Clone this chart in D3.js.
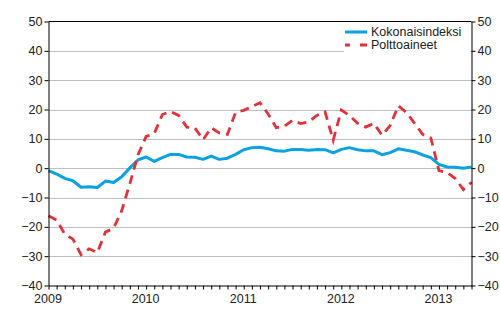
<!DOCTYPE html>
<html>
<head>
<meta charset="utf-8">
<script src="https://cdn.jsdelivr.net/npm/d3@7"></script>
<style>
  html, body { margin: 0; padding: 0; background: #fff; }
  svg { display: block; }
  text { font-family: "Liberation Sans", Arial, sans-serif; font-size: 12.5px; fill: #222; }
</style>
</head>
<body>
<svg id="chart" width="500" height="330"></svg>
<script>
// Monthly annual change (%), January 2009 – May 2013
const yearLabels = ["2009", "2010", "2011", "2012", "2013"];
const yTicks = [-40, -30, -20, -10, 0, 10, 20, 30, 40, 50];
const seriesNames = ["Kokonaisindeksi", "Polttoaineet"];

const kokonaisindeksi = [
  -0.8, -2.0, -3.5, -4.3, -6.5, -6.3, -6.6, -4.4, -4.9, -2.9, 0.1, 2.8,
  3.8, 2.3, 3.6, 4.7, 4.7, 3.8, 3.7, 3.0, 4.1, 3.0, 3.4, 4.7,
  6.3, 7.0, 7.1, 6.6, 5.9, 5.8, 6.4, 6.4, 6.1, 6.4, 6.3, 5.2,
  6.4, 7.0, 6.3, 5.9, 5.9, 4.6, 5.3, 6.6, 6.1, 5.6, 4.5, 3.6,
  1.3, 0.4, 0.3, 0.0, 0.4
];

const polttoaineet = [
  -16.2, -17.7, -22.5, -24.2, -29.5, -27.5, -28.8, -21.8, -20.5, -14.5, -5.3, 4.5,
  10.8, 11.8, 18.3, 19.3, 18.0, 14.0, 13.7, 9.7, 13.8, 12.0, 11.5, 19.0,
  19.7, 21.0, 22.3, 18.5, 13.8, 14.3, 16.3, 15.2, 15.8, 18.0, 19.2, 9.5,
  19.8, 18.0, 15.3, 14.0, 15.3, 11.2, 14.5, 21.3, 19.0, 15.3, 11.5, 10.3,
  -0.8, -1.5, -3.5, -7.3, -4.8
];

const colors = { blue: "#0ba2e1", red: "#e0323a", grid: "#c0c0c0", axis: "#000" };

const svg = d3.select("#chart");
const plotLeft = 48.5, plotRight = 471.5, plotTop = 21.5, plotBottom = 285.5;

const months = d3.range(kokonaisindeksi.length);
const x = d3.scaleLinear().domain([0, months.length - 1]).range([plotLeft, plotRight]);
const y = d3.scaleLinear().domain([-40, 50]).range([plotBottom, plotTop]);

// Horizontal gridlines
svg.append("g")
  .selectAll("line")
  .data(yTicks.filter(t => t > -40 && t < 50))
  .join("line")
  .attr("x1", plotLeft).attr("x2", plotRight)
  .attr("y1", d => Math.round(y(d)) + 0.5)
  .attr("y2", d => Math.round(y(d)) + 0.5)
  .attr("stroke", colors.grid)
  .attr("stroke-width", 1);

// Legend background hides the gridline behind it
svg.append("rect")
  .attr("x", 344).attr("y", 23)
  .attr("width", plotRight - 344 - 1).attr("height", 34)
  .attr("fill", "#fff");

// Series lines
const line = d3.line()
  .x((d, i) => x(i))
  .y(d => y(d));

svg.append("path")
  .datum(kokonaisindeksi)
  .attr("d", line)
  .attr("fill", "none")
  .attr("stroke", colors.blue)
  .attr("stroke-width", 3)
  .attr("stroke-linejoin", "round");

svg.append("path")
  .datum(polttoaineet)
  .attr("d", line)
  .attr("fill", "none")
  .attr("stroke", colors.red)
  .attr("stroke-width", 2.8)
  .attr("stroke-dasharray", "9,6");

// Frame: top border
svg.append("line")
  .attr("x1", plotLeft).attr("x2", plotRight)
  .attr("y1", plotTop).attr("y2", plotTop)
  .attr("stroke", colors.axis);

// Left axis
const yAxisLeft = d3.axisLeft(y).tickValues(yTicks).tickSize(4).tickSizeOuter(0).tickPadding(2);
const gl = svg.append("g").attr("transform", `translate(${plotLeft},0)`).call(yAxisLeft);

// Right axis
const yAxisRight = d3.axisRight(y).tickValues(yTicks).tickSize(4).tickSizeOuter(0).tickPadding(2);
const gr = svg.append("g").attr("transform", `translate(${plotRight},0)`).call(yAxisRight);

// Bottom axis with monthly ticks, year labels at January
const xAxis = d3.axisBottom(x)
  .tickValues(months)
  .tickSize(4)
  .tickSizeOuter(0)
  .tickPadding(5)
  .tickFormat(i => (i % 12 === 0 ? yearLabels[i / 12] : ""));
const gb = svg.append("g").attr("transform", `translate(0,${plotBottom})`).call(xAxis);
gb.selectAll(".tick text").attr("dx", -1);

[gl, gr, gb].forEach(g => {
  g.select(".domain").attr("stroke", colors.axis);
  g.selectAll(".tick line").attr("stroke", colors.axis);
  g.selectAll(".tick text")
    .attr("fill", "#222")
    .style("font-family", '"Liberation Sans", Arial, sans-serif')
    .style("font-size", "12.5px");
});

// Legend
const legend = svg.append("g");
const legendItems = [
  { name: seriesNames[0], color: colors.blue, dash: null, width: 3, yPos: 32 },
  { name: seriesNames[1], color: colors.red, dash: "5,10,7,10", width: 2.8, yPos: 45 }
];
legendItems.forEach(item => {
  legend.append("line")
    .attr("x1", 345).attr("x2", 367)
    .attr("y1", item.yPos).attr("y2", item.yPos)
    .attr("stroke", item.color)
    .attr("stroke-width", item.width)
    .attr("stroke-dasharray", item.dash);
  legend.append("text")
    .attr("x", 371)
    .attr("y", item.yPos)
    .attr("dy", "0.35em")
    .text(item.name);
});
</script>
</body>
</html>
